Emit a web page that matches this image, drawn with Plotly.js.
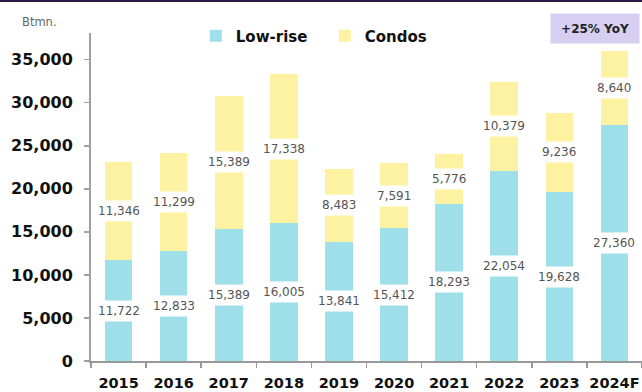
<!DOCTYPE html>
<html>
<head>
<meta charset="utf-8">
<script src="https://cdn.plot.ly/plotly-3.0.1.min.js"></script>
<style>html,body{margin:0;padding:0;background:#fff;}#chart{width:642px;height:392px;}</style>
</head>
<body>
<div id="chart"></div>
<script>
const years = ['2015','2016','2017','2018','2019','2020','2021','2022','2023','2024F'];
const lowRise = [11722,12833,15389,16005,13841,15412,18293,22054,19628,27360];
const condos = [11346,11299,15389,17338,8483,7591,5776,10379,9236,8640];
const yTicks = [0,5000,10000,15000,20000,25000,30000,35000];

const cyan = '#9fdfe9';
const yellow = '#fcf2a2';
const fmt = v => v.toLocaleString('en-US');

const traces = [
  {type:'bar', name:'Low-rise', x:years, y:lowRise, marker:{color:cyan}, hoverinfo:'skip'},
  {type:'bar', name:'Condos', x:years, y:condos, marker:{color:yellow}, hoverinfo:'skip'}
];

const labelFont = {family:'DejaVu Sans', size:12, color:'#555'};
const annotations = [];
years.forEach((yr,i)=>{
  annotations.push({xref:'x', yref:'y', x:i, y:lowRise[i]/2, text:fmt(lowRise[i]),
    showarrow:false, bgcolor:'#ffffff', borderpad:3, font:labelFont});
  annotations.push({xref:'x', yref:'y', x:i, y:lowRise[i]+condos[i]/2, text:fmt(condos[i]),
    showarrow:false, bgcolor:'#ffffff', borderpad:3, font:labelFont});
});
annotations.push({xref:'paper', yref:'paper', x:-0.129, y:1.043, yshift:-3, xanchor:'left', yanchor:'middle',
  text:'Btmn.', showarrow:false, font:{family:'DejaVu Sans', size:11.5, color:'#666'}});
annotations.push({xref:'paper', yref:'paper', x:0.9156, y:1.0183, yshift:-2, xanchor:'center', yanchor:'middle',
  text:'<b>+25% YoY</b>', showarrow:false, bgcolor:'#d6cff1', width:86, height:27, borderpad:1,
  font:{family:'DejaVu Sans', size:12, color:'#222'}});

const layout = {
  width:642, height:392,
  margin:{l:91, r:0, t:33, b:31, autoexpand:false},
  paper_bgcolor:'#ffffff', plot_bgcolor:'#ffffff',
  barmode:'stack', bargap:0.5,
  showlegend:true,
  legend:{orientation:'h', traceorder:'normal', xref:'container', yref:'container', x:0.305, y:1-36/392,
    xanchor:'left', yanchor:'middle', entrywidth:84, entrywidthmode:'pixels',
    font:{family:'DejaVu Sans', size:15, color:'#111', weight:'bold'}, bgcolor:'rgba(0,0,0,0)'},
  xaxis:{type:'category', range:[-0.5, years.length-0.5], automargin:false, tickangle:0,
    showgrid:false, showline:true, linecolor:'#999', linewidth:1.5,
    ticks:'outside', tickson:'boundaries', ticklen:5, tickcolor:'#999', tickwidth:1.5,
    ticklabelstandoff:8,
    tickfont:{family:'DejaVu Sans', size:14.5, color:'#111', weight:'bold'}, fixedrange:true},
  yaxis:{range:[0,38100], automargin:false, showgrid:false, zeroline:false, showline:true, linecolor:'#a0a0a0', linewidth:2,
    ticks:'outside', ticklen:5, tickcolor:'#a0a0a0', tickwidth:1.5, tickvals:yTicks, tickformat:',d',
    ticklabelstandoff:8,
    tickfont:{family:'DejaVu Sans', size:16, color:'#111', weight:'bold'}, fixedrange:true},
  shapes:[{type:'rect', xref:'paper', yref:'paper', x0:-0.17, x1:1.01, y0:(361-3)/327, y1:(361+1)/327,
    fillcolor:'#2c1a46', line:{width:0}}],
  annotations:annotations
};

Plotly.newPlot('chart', traces, layout, {displayModeBar:false, staticPlot:true});
</script>
</body>
</html>
